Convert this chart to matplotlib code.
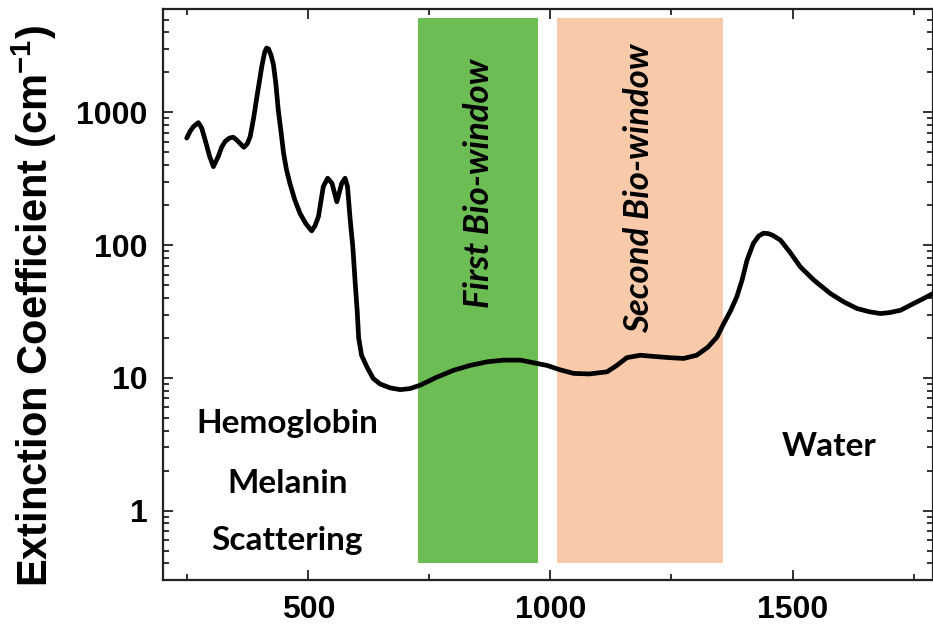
import numpy as np
import matplotlib
matplotlib.use("Agg")
import matplotlib.pyplot as plt
from matplotlib.ticker import FixedLocator, LogLocator, NullFormatter, FixedFormatter

plt.rcParams['mathtext.fontset'] = 'custom'
plt.rcParams['mathtext.rm'] = 'Liberation Sans:bold'
plt.rcParams['mathtext.bf'] = 'Liberation Sans:bold'

# absorption curve (nm, cm^-1)
wavelength = [249, 256, 263, 273, 280, 287, 296, 304, 314, 321, 328, 337, 345, 352, 359, 367,
              374, 380, 387, 394, 404, 410, 414, 418, 423, 428, 433, 438, 444, 449, 455, 462, 472,
              483, 495, 507, 514, 521, 531, 540, 549, 559, 569, 576, 581, 586, 589,
              592, 597, 601, 604, 610, 621, 634, 648, 669, 690, 710, 731, 765, 800,
              834, 869, 903, 938, 993, 1020, 1048, 1080, 1117, 1137, 1158, 1186,
              1213, 1245, 1275, 1302, 1325, 1344, 1358, 1372, 1385, 1396, 1406, 1419,
              1430, 1440, 1450, 1458, 1475, 1495, 1516, 1544, 1578, 1606, 1633,
              1658, 1681, 1700, 1723, 1750, 1770, 1790]
extinction = [640, 720, 782, 837, 760, 620, 470, 390, 464, 545, 602, 640, 650, 620, 584, 546,
              580, 656, 900, 1316, 2218, 2850, 3055, 3000, 2700, 2300, 1650, 1045, 700, 492, 370, 292, 220,
              173, 145, 128, 140, 164, 276, 319, 292, 212, 292, 319, 276, 164, 125,
              97, 51, 32, 20, 14.8, 12.1, 9.9, 9.0, 8.4, 8.15, 8.3, 8.8, 10.1, 11.4,
              12.4, 13.2, 13.6, 13.6, 12.4, 11.5, 10.8, 10.7, 11.1, 12.4, 14.2, 14.8,
              14.5, 14.2, 14.0, 14.8, 17.0, 20.3, 25.7, 32, 40.9, 55, 77, 103,
              117, 123, 122, 119, 109, 88, 68.6, 54.5, 43.2, 37.3, 33.3,
              31.5, 30.5, 31, 32.3, 36.3, 39.5, 43.2]

# bio-windows (nm)
window_names = ['First Bio-window', 'Second Bio-window']
window_start = [727, 1014]
window_end = [975, 1357]
window_colors = ['#6dbd55', '#f9caaa']
window_label_x = [853, 1184]
window_label_y = [290, 270]

fig = plt.figure(figsize=(9.33, 6.26), dpi=100)
ax = fig.add_axes([0.1747, 0.0735, 0.8253, 0.912])

for name, x0, x1, c, lx, ly in zip(window_names, window_start, window_end, window_colors,
                                   window_label_x, window_label_y):
    ax.fill_between([x0, x1], [0.4, 0.4], [5100, 5100], color=c, lw=0, zorder=1)
    ax.text(lx, ly, name, rotation=90, ha='center', va='center', family='Lato',
            style='italic', weight='bold', fontsize=25, zorder=4)

ax.plot(wavelength, extinction, color='black', lw=3.4, solid_joinstyle='round',
        solid_capstyle='round', zorder=3)

ax.set_yscale('log')
ax.set_xlim(200, 1790)
ax.set_ylim(0.3, 6000)

# labels inside the plot
for txt, yv in zip(['Hemoglobin', 'Melanin', 'Scattering'], [4.5, 1.6, 0.6]):
    ax.text(457, yv, txt, ha='center', va='center', family='Lato', weight='bold',
            fontsize=24, zorder=4)
ax.text(1575, 3.05, 'Water', ha='center', va='center', family='Lato', weight='bold',
        fontsize=24, zorder=4)

# ticks
ax.xaxis.set_major_locator(FixedLocator([500, 1000, 1500]))
ax.xaxis.set_minor_locator(FixedLocator([250, 750, 1250, 1750]))
ax.yaxis.set_major_locator(FixedLocator([1, 10, 100, 1000]))
ax.yaxis.set_major_formatter(FixedFormatter(['1', '10', '100', '1000']))
ax.yaxis.set_minor_locator(LogLocator(base=10, subs=np.arange(2, 10), numticks=20))
ax.yaxis.set_minor_formatter(NullFormatter())
ax.tick_params(which='both', direction='in', top=True, right=True, width=1.3, color='#222222')
ax.tick_params(which='major', length=7, pad=11)
ax.tick_params(which='minor', length=4)
for lab in ax.get_xticklabels() + ax.get_yticklabels():
    lab.set_family('Liberation Sans')
    lab.set_weight('bold')
    lab.set_fontsize(23)
for sp in ax.spines.values():
    sp.set_linewidth(1.6)
    sp.set_color('#222222')

ax.set_ylabel('Extinction Coefficient (cm$^{-1}$)', family='Liberation Sans',
              weight='bold', fontsize=30)
ax.yaxis.set_label_coords(-0.135, 0.48)

fig.savefig('out.png', dpi=100)
